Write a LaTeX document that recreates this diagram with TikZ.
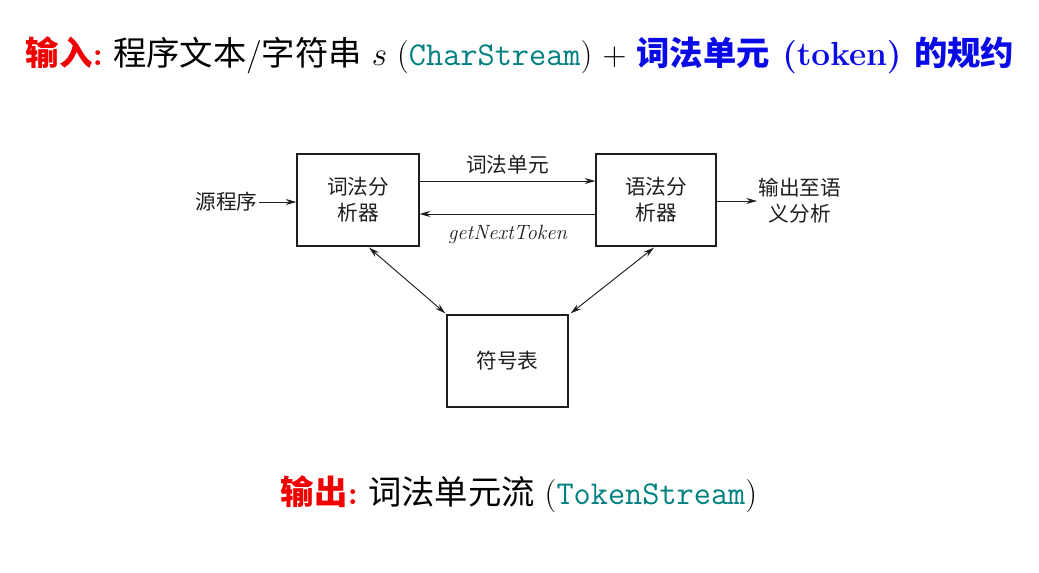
\documentclass[tikz,border=0pt]{standalone}
\usepackage{fontspec}
\usetikzlibrary{arrows.meta,calc}
\newfontfamily\cjk{Noto Sans CJK SC}
\definecolor{tealx}{RGB}{0,128,128}
\definecolor{bluex}{RGB}{10,10,230}
\definecolor{redx}{RGB}{240,0,0}
\definecolor{inkx}{RGB}{30,30,30}
\begin{document}
\begin{tikzpicture}[x=0.75pt,y=-0.75pt,
  box/.style={draw=inkx,line width=0.9pt,inner sep=0pt,align=center,
    font=\cjk\fontsize{15.5}{19.5}\selectfont,text=inkx},
  lbl/.style={inner sep=1pt,align=center,font=\cjk\fontsize{15.5}{19.5}\selectfont,text=inkx},
  arr/.style={draw=inkx,line width=0.7pt,-{Stealth[length=8pt,width=4.5pt]}},
  darr/.style={draw=inkx,line width=0.7pt,{Stealth[length=8pt,width=4.5pt]}-{Stealth[length=8pt,width=4.5pt]}},
  big/.style={inner sep=0pt,font=\fontsize{25}{30}\selectfont}]
\useasboundingbox (0,0) rectangle (1039,572);
% title
\node[big] (title) at (520,55) {{\color{redx}\cjk\bfseries 输入}{\color{redx}\bfseries :}\ {\cjk 程序文本}/{\cjk 字符串} $s$ (\textcolor{tealx}{\texttt{CharStream}}) $+$ {\color{bluex}\bfseries{\cjk 词法单元} (token) {\cjk 的规约}}};
% boxes
\node[box,minimum width=91.5pt,minimum height=69pt] (lex) at (358,200) {词法分\\析器};
\node[box,minimum width=90pt,minimum height=69pt] (par) at (656,200) {语法分\\析器};
\node[box,minimum width=90.75pt,minimum height=69pt] (sym) at (507.5,361) {符号表};
\node[lbl,anchor=east] (src) at (259,202) {源程序};
\node[lbl,anchor=west] (out) at (757,201) {输出至语\\义分析};
\coordinate (ytop) at (0,181);
\coordinate (ybot) at (0,214);
\coordinate (ysrc) at (0,202);
\draw[arr] (lex.east |- ytop) -- node[lbl,above=4pt] (tok) {词法单元} (par.west |- ytop);
\draw[arr] (par.west |- ybot) -- node[lbl,below=7pt,font=\itshape\fontsize{15.5}{18}\selectfont] (gnt) {getNextToken} (lex.east |- ybot);
\draw[arr] (src.east |- ysrc) -- (lex.west |- ysrc);
\draw[arr] (par.east |- out.west) -- (out.west);
\draw[darr] ($(lex.south)+(11,1)$) -- ($(sym.north west)+(-1,-1)$);
\draw[darr] ($(par.south)+(-2,1)$) -- ($(sym.north east)+(2,-1)$);
% output
\node[big] (outp) at (519,494) {{\color{redx}\cjk\bfseries 输出}{\color{redx}\bfseries :}\ {\cjk 词法单元流} (\textcolor{tealx}{\texttt{TokenStream}})};
\end{tikzpicture}
\end{document}
